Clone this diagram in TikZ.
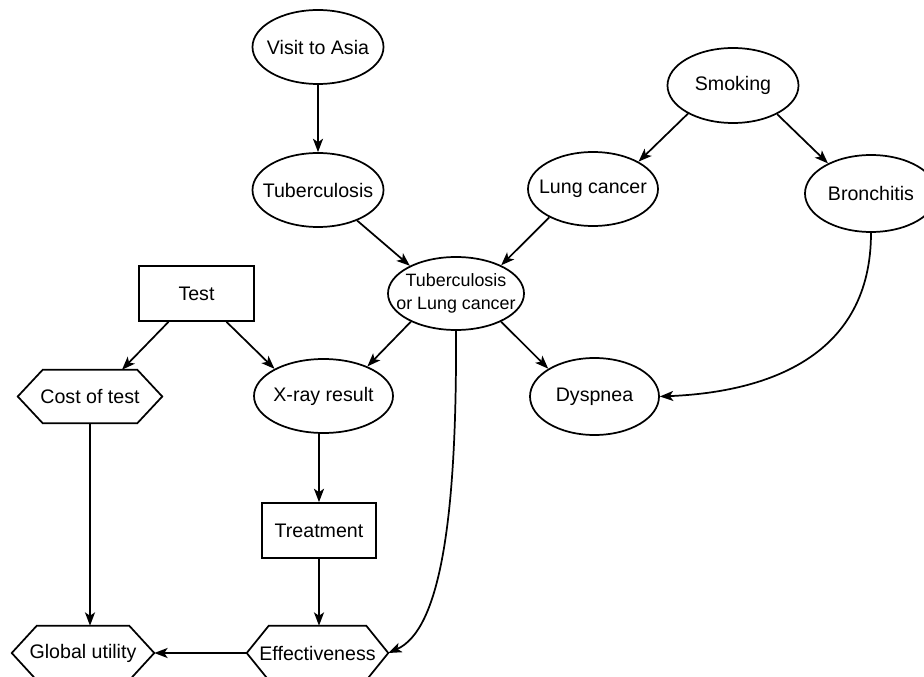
\documentclass[tikz,border=0pt]{standalone}
\usepackage{fontspec}
\setmainfont{Liberation Sans}
\usetikzlibrary{shapes.geometric,arrows.meta,calc}
\newcommand{\hexborder}[2]{%
  \draw[line width=1.3pt] (#1.west) -- ($(#1.north west)+(#2,0)$) -- ($(#1.north east)+(-#2,0)$) -- (#1.east)
    -- ($(#1.south east)+(-#2,0)$) -- ($(#1.south west)+(#2,0)$) -- cycle;}
\begin{document}
\begin{tikzpicture}[x=0.75pt,y=-0.75pt,
  every node/.style={font=\fontsize{14.7pt}{17pt}\selectfont, inner sep=0pt},
  ell/.style={ellipse, draw, line width=1.3pt, minimum width=98.25pt, minimum height=55.5pt},
  box/.style={rectangle, draw, line width=1.3pt},
  hexnode/.style={rectangle},
  conn/.style={line width=1.3pt, -{Stealth[length=10pt,width=7.5pt,inset=2.5pt]}}]
\useasboundingbox (0,0) rectangle (924,677);
\clip (0,0) rectangle (924,677);
% ellipses
\node[ell] (visit) at (318,47) {\makebox[0pt]{Visit to Asia}};
\node[ell] (tub) at (318,190) {\makebox[0pt]{Tuberculosis}};
\node[ell, minimum height=56.25pt] (smoking) at (733,85.5) {\makebox[0pt]{Smoking}};
\node[ell, minimum width=97.5pt] (lc) at (593,189) {\makebox[0pt]{Lung cancer}};
\node[ell, minimum width=99pt, minimum height=57.75pt] (bron) at (871,193.5) {\makebox[0pt]{Bronchitis}};
\node[ell, minimum width=102pt, minimum height=54.75pt] (torlc) at (456,293.5)
  {\makebox[0pt]{\fontsize{13.4pt}{17.25pt}\selectfont\begin{tabular}{@{}c@{}}Tuberculosis\\ or Lung cancer\end{tabular}}};
\node[ell, minimum width=104.25pt] (xray) at (323.5,396) {\makebox[0pt]{X-ray result}};
\node[ell, minimum width=96.75pt, minimum height=57.75pt] (dysp) at (594.5,396.5) {\makebox[0pt]{Dyspnea}};
% rectangles
\node[box, minimum width=86.25pt, minimum height=41.25pt] (test) at (196.5,293.5) {Test};
\node[box, minimum width=85.5pt, minimum height=41.25pt] (treat) at (319,530.5) {Treatment};
% hexagons
\node[hexnode, minimum width=108pt, minimum height=39.75pt] (cost) at (90,396.5) {Cost of test};
\node[hexnode, minimum width=106.5pt, minimum height=40.5pt] (gu) at (83,653) {Global utility};
\node[hexnode, minimum width=105.75pt, minimum height=40.5pt] (eff) at (317.5,653) {Effectiveness};
\hexborder{cost}{25}
\hexborder{gu}{25}
\hexborder{eff}{22}
% connectors
\draw[conn] (visit.south) -- (tub.north);
\draw[conn] (smoking.212) -- (lc.31);
\draw[conn] (smoking.327) -- (bron.145);
\draw[conn] (tub.322) -- (torlc.149);
\draw[conn] (lc.213) -- (torlc.32);
\draw[conn] (torlc.212) -- (xray.34);
\draw[conn] (torlc.328) -- (dysp.149);
\draw[conn] ($(test.south)+(30,0)$) -- (xray.151);
\draw[conn] ($(test.south)+(-28,0)$) -- ($(cost.north)+(32,0)$);
\draw[conn] (xray.south -| treat.north) -- (treat.north);
\draw[conn] (treat.south) -- (treat.south |- eff.north);
\draw[conn] (cost.south) -- (cost.south |- gu.north);
\draw[conn] (eff.west) -- (gu.east);
\draw[conn] (torlc.south) .. controls (457,520) and (440,630) .. (eff.east);
\draw[conn] (bron.south) .. controls (871,355) and (770,392) .. (dysp.east);
\end{tikzpicture}
\end{document}
